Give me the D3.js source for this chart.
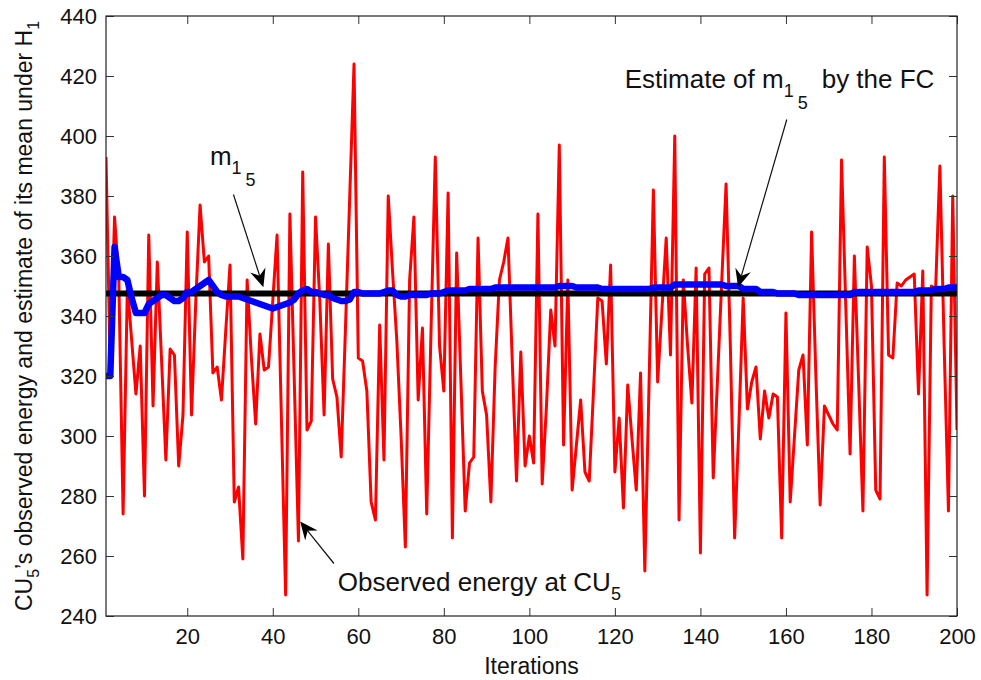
<!DOCTYPE html>
<html>
<head>
<meta charset="utf-8">
<script src="https://cdn.jsdelivr.net/npm/d3@7"></script>
<style>
  body { margin: 0; background: #fff; }
  text { font-family: "Liberation Sans", Arial, Helvetica, sans-serif; fill: #111; }
</style>
</head>
<body>
<div id="chart"></div>
<script>
// observed energy at CU5, one value per iteration (1..200)
var observed = [
  393,322,373,352,274,350,332,314,330,280, 367,310,358,325,292,329,327,290,307,368,
  307,345,377,358,360,321,323,312,335,357, 278,283,259,352,326,304,334,322,323,345,
  367,307,247,374,320,265,388,302,305,373, 345,307,364,319,313,293,336,380,424,326,
  325,315,278,272,337,292,380,355,332,300, 263,352,373,312,336,274,335,393,330,315,
  381,266,361,318,275,291,293,366,315,307, 278,323,352,358,366,325,285,328,290,300,
  291,374,284,310,342,330,397,297,352,282, 297,312,288,285,315,346,345,324,357,288,
  306,276,317,299,282,321,255,318,382,318, 342,366,327,400,272,352,330,311,356,261,
  354,356,286,319,352,384,330,266,304,346, 309,318,323,299,315,306,314,313,266,341,
  278,300,322,327,297,368,320,277,310,307, 304,302,392,343,294,360,318,275,363,350,
  282,279,393,327,326,351,350,352,353,354, 314,355,247,350,349,390,330,275,380,302
];

// running estimate of m_1^5 by the FC
var estimate = [
  320,320,363,353,353,352,346,341,341,341, 344,345,346,347,347,346,345,345,346,348,
  348,349,350,351,352,350,348,347,346.5,346.5, 346.5,346.5,346,345.5,345,344.5,344,343.5,343,342.5,
  343,343.5,344,344.5,345.5,347.5,348.5,349,348,348, 347.5,347,347,346,345.5,345,345,345.5,348,348,
  347.5,347.5,347.5,347.5,347.5,348,348.5,348.5,347,346.5, 346.5,347,347,347,347,347,347.5,347.5,347.5,348,
  348.5,348.5,348.5,348.5,348.5,349,349,349,349,349, 349,349.5,349.5,349.5,349.5,349.5,349.5,349.5,349.5,349.5,
  349.5,349.5,349.5,349.5,349.5,349.5,350,350,350,350, 349.5,349.5,349.5,349.5,349.5,349.5,349,349,349,349,
  349,349,349,349,349,349,349,349,349.5,349.5, 349.5,349.5,349.5,350.5,350.5,350.5,350.5,350.5,350.5,350.5,
  350.5,350.5,350.5,350.5,350.5,350,350,350,350,349, 349,349,349,348,348,348,348,347.5,347.5,347.5,
  347.5,347.5,347,347,347,347,347,347,347,347, 347,347,347,347,347,348,348,348,348,348,
  348,348,348,348,348,348,348,348,348,348, 348.5,348.5,348.5,348.5,349,349,349,349.5,349.5,349.5
];

var trueMean = 347.5;   // m_1^5
var xTicks = [20, 40, 60, 80, 100, 120, 140, 160, 180, 200];
var yTicks = [240, 260, 280, 300, 320, 340, 360, 380, 400, 420, 440];

var W = 981, H = 680;
var margin = {top: 16, right: 24, bottom: 64, left: 106};
var iw = W - margin.left - margin.right;
var ih = H - margin.top - margin.bottom;

var svg = d3.select('#chart').append('svg')
  .attr('width', W)
  .attr('height', H);

svg.append('rect').attr('width', W).attr('height', H).attr('fill', '#fff');

var chart = svg.append('g')
  .attr('transform', 'translate(' + margin.left + ',' + margin.top + ')');

var x = d3.scaleLinear().domain([1, 200]).range([0, iw]);
var y = d3.scaleLinear().domain([240, 440]).range([ih, 0]);

chart.append('clipPath').attr('id', 'clip')
  .append('rect').attr('width', iw).attr('height', ih);

var line = d3.line()
  .x(function(d, i) { return x(i + 1); })
  .y(function(d) { return y(d); });

var plot = chart.append('g').attr('clip-path', 'url(#clip)');

plot.append('path')
  .datum(observed)
  .attr('d', line)
  .attr('fill', 'none')
  .attr('stroke', '#ff0000')
  .attr('stroke-width', 3)
  .attr('stroke-linejoin', 'round');

plot.append('line')
  .attr('x1', x(1)).attr('x2', x(200))
  .attr('y1', y(trueMean)).attr('y2', y(trueMean))
  .attr('stroke', '#000')
  .attr('stroke-width', 6);

plot.append('path')
  .datum(estimate)
  .attr('d', line)
  .attr('fill', 'none')
  .attr('stroke', '#0000ff')
  .attr('stroke-width', 6.5)
  .attr('stroke-linejoin', 'round');

///////////////////////
// Axes (matlab style: ticks inside on all 4 sides)
var tl = 8;
var xAxis = d3.axisBottom(x).tickValues(xTicks).tickSizeInner(-tl).tickSizeOuter(0).tickPadding(12);
var yAxis = d3.axisLeft(y).tickValues(yTicks).tickSizeInner(-tl).tickSizeOuter(0).tickPadding(9);
var xTop = d3.axisTop(x).tickValues(xTicks).tickSizeInner(-tl).tickSizeOuter(0).tickFormat('');
var yRight = d3.axisRight(y).tickValues(yTicks).tickSizeInner(-tl).tickSizeOuter(0).tickFormat('');

var gx = chart.append('g').attr('transform', 'translate(0,' + ih + ')').call(xAxis);
var gy = chart.append('g').call(yAxis);
var gt = chart.append('g').call(xTop);
var gr = chart.append('g').attr('transform', 'translate(' + iw + ',0)').call(yRight);

[gx, gy, gt, gr].forEach(function(g) {
  g.select('.domain').remove();
  g.selectAll('line').attr('stroke', '#333').attr('stroke-width', 1);
  g.selectAll('text').style('font-size', '22px').attr('fill', '#111')
    .style('font-family', '"Liberation Sans", Arial, Helvetica, sans-serif');
});

chart.append('rect')
  .attr('width', iw).attr('height', ih)
  .attr('fill', 'none').attr('stroke', '#222').attr('stroke-width', 1.2);

// axis labels
chart.append('text')
  .attr('x', iw / 2).attr('y', ih + 58)
  .attr('text-anchor', 'middle')
  .style('font-size', '23px')
  .text('Iterations');

var ylab = chart.append('text')
  .attr('transform', 'translate(-74,' + (ih / 2) + ') rotate(-90)')
  .attr('text-anchor', 'middle')
  .style('font-size', '23px');
ylab.append('tspan').text('CU');
ylab.append('tspan').attr('dy', 7).style('font-size', '16px').text('5');
ylab.append('tspan').attr('dy', -7).text('\u2019s observed energy and estimate of its mean under H');
ylab.append('tspan').attr('dy', 7).style('font-size', '16px').text('1');

///////////////////////
// annotations
function arrow(x0, y0, x1, y1) {
  var sx = x(x0), sy = y(y0), tx = x(x1), ty = y(y1);
  var dx = tx - sx, dy = ty - sy, len = Math.sqrt(dx * dx + dy * dy);
  var ux = dx / len, uy = dy / len, nx = -uy, ny = ux;
  var L = 18, hw = 8, notch = 12;
  chart.append('line')
    .attr('x1', sx).attr('y1', sy)
    .attr('x2', tx - ux * notch).attr('y2', ty - uy * notch)
    .attr('stroke', '#111').attr('stroke-width', 1.2);
  var pts = [
    [tx, ty],
    [tx - ux * L + nx * hw, ty - uy * L + ny * hw],
    [tx - ux * notch, ty - uy * notch],
    [tx - ux * L - nx * hw, ty - uy * L - ny * hw]
  ];
  chart.append('path')
    .attr('d', 'M' + pts.map(function(p) { return p.join(','); }).join('L') + 'Z')
    .attr('fill', '#000');
}

function mLabel(t, xi, v) {
  var g = chart.append('text').attr('x', x(xi)).attr('y', y(v)).style('font-size', '26px');
  g.append('tspan').text(t + 'm');
  g.append('tspan').attr('dy', 9).style('font-size', '18px').text('1');
  g.append('tspan').attr('dy', 12).attr('dx', 4).style('font-size', '18px').text('5');
  return g;
}

var est = mLabel('Estimate of ', 122.3, 416);
est.append('tspan').attr('dy', -21).attr('dx', 14).text('by the FC');
arrow(160.2, 405.5, 148.8, 349.6);

mLabel('', 25.3, 390.5);
arrow(30.8, 380.5, 37.8, 349.6);

var obs = chart.append('text').attr('x', x(55.2)).attr('y', y(248.5)).style('font-size', '26px');
obs.append('tspan').text('Observed energy at CU');
obs.append('tspan').attr('dy', 9).style('font-size', '18px').text('5');
arrow(54.3, 257.5, 46.4, 271.5);
</script>
</body>
</html>
